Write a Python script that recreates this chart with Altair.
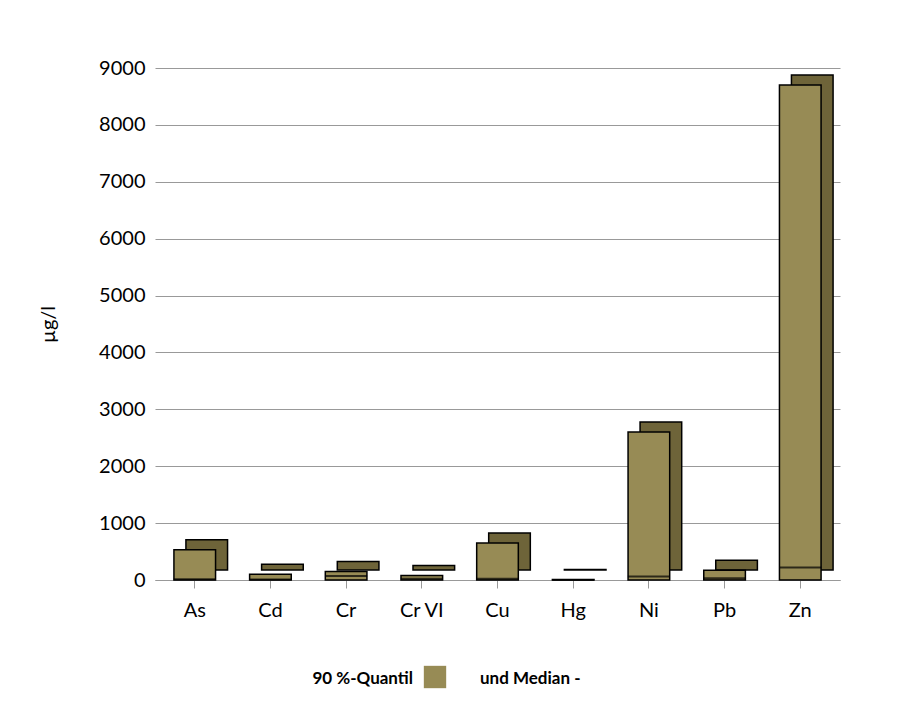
import altair as alt
import pandas as pd

elements = ["As", "Cd", "Cr", "Cr VI", "Cu", "Hg", "Ni", "Pb", "Zn"]
quantil90 = [530, 100, 150, 80, 650, 10, 2600, 170, 8700]
median = [15, 10, 70, 20, 20, 1, 60, 30, 220]

df = pd.DataFrame({"el": elements, "q90": quantil90, "med": median})

x = alt.X("el:N", sort=elements, title=None,
          axis=alt.Axis(labelAngle=0, labelFontSize=20, labelPadding=12, tickSize=8,
                        domainColor="#999", tickColor="#999"),
          scale=alt.Scale(paddingInner=0.45, paddingOuter=0.25))
y = alt.Y("q90:Q", title="µg/l",
          scale=alt.Scale(domain=[0, 9000]),
          axis=alt.Axis(values=list(range(0, 9001, 1000)), format="d", labelFontSize=20,
                        titleFontSize=20, titleFontWeight="normal",
                        titlePadding=40, gridColor="#999", domain=False, ticks=False, labelPadding=10))

base = alt.Chart(df)
depth = base.mark_bar(color="#6e6439", stroke="black", strokeWidth=1.5,
                      xOffset=12, yOffset=-10, y2Offset=-10).encode(x=x, y=y)
front = base.mark_bar(color="#978b55", stroke="black", strokeWidth=1.5).encode(x=x, y=y)
med = base.mark_tick(color="black", thickness=2, size=42).encode(x=x, y="med:Q")

legend_text = alt.Chart(pd.DataFrame({"t": ["90 %-Quantil"]})).mark_text(
    fontSize=17, fontWeight="bold", align="right").encode(
    text="t:N", x=alt.value(258), y=alt.value(611))
legend_sw = alt.Chart(pd.DataFrame({"t": ["s"]})).mark_square(
    size=500, color="#978b55", opacity=1).encode(x=alt.value(280), y=alt.value(609))
legend_med = alt.Chart(pd.DataFrame({"t": ["und  Median -"]})).mark_text(
    fontSize=17, fontWeight="bold", align="left").encode(
    text="t:N", x=alt.value(325), y=alt.value(611))

chart = alt.layer(depth, front, med, legend_text, legend_sw, legend_med).properties(
    width=685, height=512, padding={"left": 30, "top": 50, "right": 30, "bottom": 20}
).configure(font="Lato").configure_view(stroke=None)

chart.save("out.html", embed_options={"renderer": "svg", "actions": False})
